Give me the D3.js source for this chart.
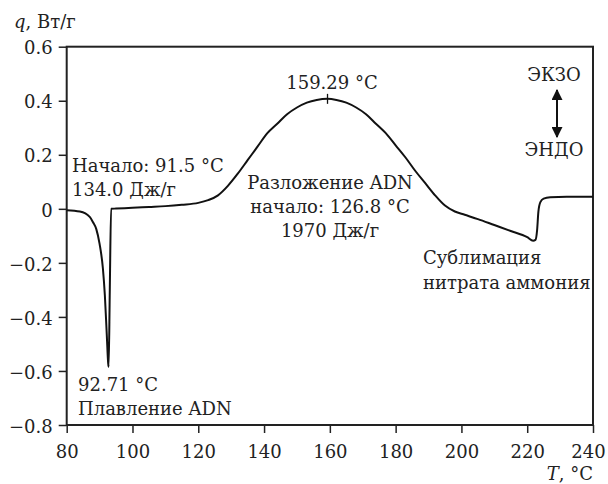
<!DOCTYPE html>
<html><head><meta charset="utf-8">
<script src="https://cdn.jsdelivr.net/npm/d3@7"></script>
<style>
body{margin:0;background:#fff;}
svg text{font-family:"DejaVu Serif",serif;fill:#222;}
</style></head>
<body><svg id="c" width="608" height="484"></svg>
<script>
const temps = [80,84,87,88,89,90,91,91.6,92.2,92.6,92.75,93.1,93.5,95,100,105,110,115,120,123,126,129,132,135,138,141,144,147,150,153,156,159.29,162,165,168,171,174,177,180,183,186,189,192,195,198,201,205,210,215,220,221.8,222.5,223,223.4,224,225,227,232,240];
const heatFlow = [-0.005,-0.01,-0.03,-0.05,-0.075,-0.13,-0.22,-0.32,-0.47,-0.57,-0.585,-0.3,0.0,0.001,0.004,0.007,0.01,0.015,0.022,0.032,0.05,0.085,0.13,0.18,0.23,0.28,0.315,0.35,0.375,0.393,0.403,0.407,0.403,0.393,0.375,0.35,0.315,0.28,0.235,0.19,0.14,0.095,0.05,0.012,-0.01,-0.022,-0.038,-0.06,-0.082,-0.105,-0.118,-0.115,-0.08,-0.01,0.025,0.038,0.043,0.045,0.045];
const xTicks = [80,100,120,140,160,180,200,220,240];
const yTicks = [-0.8,-0.6,-0.4,-0.2,0,0.2,0.4,0.6];
const peakT = 159.29, peakQ = 0.407;

const svg = d3.select("#c");
const L=66.7,R=593,T=46.7,B=425;
const x = d3.scaleLinear().domain([80,240]).range([L,R]);
const y = d3.scaleLinear().domain([-0.8,0.6]).range([B,T]);
const FS = 18;
const FF = '"DejaVu Serif",serif';

const fmt = d => d===0 ? "0" : d3.format(".1f")(d);
const gx = svg.append("g").attr("transform",`translate(0,${B})`)
  .call(d3.axisBottom(x).tickValues(xTicks).tickSize(8).tickPadding(12).tickFormat(d3.format("d")));
const gy = svg.append("g").attr("transform",`translate(${L},0)`)
  .call(d3.axisLeft(y).tickValues(yTicks).tickSize(8).tickPadding(6).tickFormat(fmt));
[gx,gy].forEach(g=>{
  g.attr("font-family",FF).attr("font-size",FS);
  g.select(".domain").remove();
  g.selectAll(".tick line").attr("stroke","#222").attr("stroke-width",1.5);
  g.selectAll(".tick text").attr("fill","#222");
});
gx.selectAll(".tick text").filter(d=>d===240).attr("dx",-5);
gy.selectAll(".tick text").attr("dy","0.4em");
svg.append("rect").attr("x",L).attr("y",T).attr("width",R-L).attr("height",B-T)
  .attr("fill","none").attr("stroke","#222").attr("stroke-width",2);

const data = temps.map((t,i)=>[t,heatFlow[i]]);
svg.append("path").datum(data)
  .attr("d",d3.line().x(d=>x(d[0])).y(d=>y(d[1])).curve(d3.curveMonotoneX))
  .attr("fill","none").attr("stroke","#111").attr("stroke-width",2);

svg.append("line").attr("x1",x(peakT)).attr("x2",x(peakT)).attr("y1",y(peakQ)-5).attr("y2",y(peakQ)+5)
  .attr("stroke","#111").attr("stroke-width",1.3);

function txt(xp,yp,parts,anchor){
  const t = svg.append("text").attr("x",xp).attr("y",yp).attr("text-anchor",anchor||"start")
    .attr("font-family",FF).attr("font-size",FS);
  parts.forEach(p=>{ const s=t.append("tspan").text(p[0]); if(p[1]) s.attr("font-style","italic"); });
  return t;
}
txt(14,28,[["q","i"],[", Вт/г"]]);
txt(593,480,[["T","i"],[", °C"]],"end");
txt(72,172,[["Начало: 91.5 °C"]]);
txt(72,196,[["134.0 Дж/г"]]);
txt(78,391,[["92.71 °C"]]);
txt(78,415,[["Плавление ADN"]]);
txt(332,89,[["159.29 °C"]],"middle");
txt(330,189,[["Разложение ADN"]],"middle");
txt(330,213,[["начало: 126.8 °C"]],"middle");
txt(330,237,[["1970 Дж/г"]],"middle");
txt(423,264,[["Сублимация"]]);
txt(423,289,[["нитрата аммония"]]);
txt(554,81,[["ЭКЗО"]],"middle");
txt(554,156,[["ЭНДО"]],"middle");

const defs = svg.append("defs");
defs.append("marker").attr("id","ah").attr("viewBox","0 0 10 10").attr("refX",9).attr("refY",5)
  .attr("markerWidth",11).attr("markerHeight",11).attr("orient","auto-start-reverse").attr("markerUnits","userSpaceOnUse")
  .append("path").attr("d","M0,0L10,5L0,10z").attr("fill","#111");
svg.append("line").attr("x1",557).attr("x2",557).attr("y1",90).attr("y2",137)
  .attr("stroke","#111").attr("stroke-width",2)
  .attr("marker-start","url(#ah)").attr("marker-end","url(#ah)");
</script></body></html>
